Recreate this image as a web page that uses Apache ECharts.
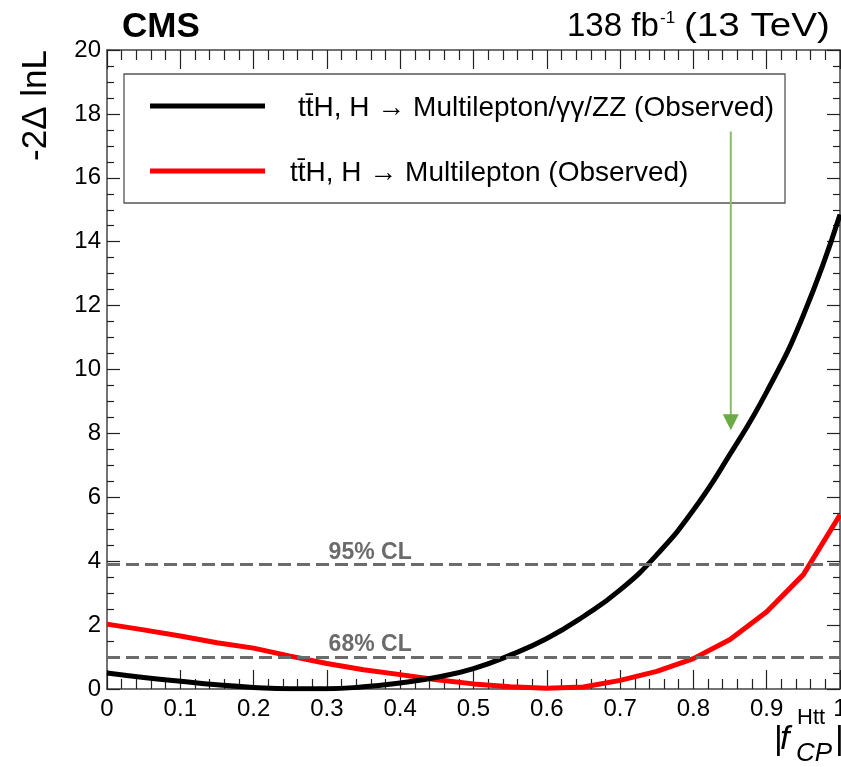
<!DOCTYPE html>
<html><head><meta charset="utf-8">
<script src="https://cdn.jsdelivr.net/npm/echarts@6/dist/echarts.min.js"></script>
<style>html,body{margin:0;padding:0;background:#fff}#c{width:841px;height:767px}</style>
</head><body><div id="c"></div>
<script>
// ---- data ----
const fcpValues = [0,0.05,0.1,0.15,0.2,0.25,0.3,0.35,0.4,0.45,0.5,0.55,0.6,0.65,0.7,0.75,0.8,0.85,0.9,0.95,1.0];
const combinedObserved = [0.50,0.36,0.24,0.13,0.05,0.01,0.01,0.07,0.19,0.37,0.64,1.06,1.58,2.27,3.10,4.20,5.60,7.35,9.30,11.70,14.85];
const multileptonObserved = [2.03,1.85,1.66,1.45,1.28,1.03,0.80,0.60,0.45,0.29,0.16,0.07,0.02,0.06,0.27,0.55,0.95,1.55,2.42,3.58,5.45];
const clLevels = [3.9, 1.0];
const clLabels = ['95% CL', '68% CL'];
const clLabelX = 0.359;
const xTickLabels = ['0','0.1','0.2','0.3','0.4','0.5','0.6','0.7','0.8','0.9','1'];
const yTickLabels = ['0','2','4','6','8','10','12','14','16','18','20'];
const seriesNames = ['t\u0074\u0304H, H \u2192 Multilepton/\u03b3\u03b3/ZZ (Observed)', 't\u0074\u0304H, H \u2192 Multilepton (Observed)'];
const arrowX = 0.851, arrowFrom = 17.45, arrowTo = 8.1;

const F = '"Liberation Sans", Arial, Helvetica, sans-serif';
const chart = echarts.init(document.getElementById('c'), null, {renderer: 'canvas'});

function xAxisDef(pos, showLabel) {
  return {
    type: 'value', position: pos, min: 0, max: 1, interval: 0.1,
    axisLine: {show: true, onZero: false, lineStyle: {color: '#444', width: 1.5}},
    axisTick: {show: true, inside: true, length: 19, lineStyle: {color: '#222', width: 1.2}},
    minorTick: {show: true, splitNumber: 5, length: 10, lineStyle: {color: '#222', width: 1.2}},
    splitLine: {show: false}, minorSplitLine: {show: false},
    axisLabel: {show: showLabel, fontSize: 24, color: '#000', fontFamily: F, margin: 8, hideOverlap: false,
      formatter: (v) => xTickLabels[Math.round(v * 10)]}
  };
}
function yAxisDef(pos, showLabel) {
  return {
    type: 'value', position: pos, min: 0, max: 20, interval: 2,
    axisLine: {show: true, onZero: false, lineStyle: {color: '#444', width: 1.5}},
    axisTick: {show: true, inside: true, length: 13, lineStyle: {color: '#222', width: 1.2}},
    minorTick: {show: true, splitNumber: 4, length: 7, lineStyle: {color: '#222', width: 1.2}},
    splitLine: {show: false}, minorSplitLine: {show: false},
    axisLabel: {show: showLabel, fontSize: 24, color: '#000', fontFamily: F, margin: 6,
      formatter: (v) => yTickLabels[Math.round(v / 2)]}
  };
}

chart.setOption({
  animation: false,
  backgroundColor: '#fff',
  grid: {left: 107, right: 1, top: 50, bottom: 78, containLabel: false, outerBoundsMode: 'none'},
  xAxis: [xAxisDef('bottom', true), xAxisDef('top', false)],
  yAxis: [yAxisDef('left', true), yAxisDef('right', false)],
  series: [
    {
      type: 'line', name: 'cl', data: [], z: 2,
      markLine: {
        silent: true, symbol: 'none', animation: false,
        label: {show: false},
        lineStyle: {type: [13, 6], color: '#6b6b6b', width: 3},
        data: clLevels.map(v => ({yAxis: v}))
      }
    },
    {
      type: 'line', name: seriesNames[1], z: 3,
      data: fcpValues.map((x, i) => [x, multileptonObserved[i]]),
      symbol: 'none', showSymbol: false, smooth: false,
      lineStyle: {color: '#ff0000', width: 5}
    },
    {
      type: 'line', name: seriesNames[0], z: 4,
      data: fcpValues.map((x, i) => [x, combinedObserved[i]]),
      symbol: 'none', showSymbol: false, smooth: 0.5,
      lineStyle: {color: '#000', width: 5}
    }
  ]
});

function px(x, y) { return chart.convertToPixel({xAxisIndex: 0, yAxisIndex: 0}, [x, y]); }
function T(text, x, y, font, opt) {
  opt = opt || {};
  const align = opt.align || 'left', va = opt.va || 'middle';
  return {type: 'text', x: x, y: y, rotation: opt.rotation || 0, scaleX: opt.scaleX || 1, z: opt.z || 10,
    style: {text: text, font: font, fill: opt.fill || '#000', align: align, textAlign: align,
      verticalAlign: va, textVerticalAlign: va}};
}

const g = [];
// header
g.push(T('CMS', 122, 27, 'bold 35px ' + F));
g.push(T('138 fb', 567, 27, '33px ' + F));
g.push(T('-1', 660, 18, '17px ' + F));
g.push(T('(13 TeV)', 684, 27, '33px ' + F, {scaleX: 1.17}));
// y-axis name
g.push(T('-2\u0394 lnL', 36, 50, '35px ' + F, {align: 'right', rotation: Math.PI / 2}));
// x-axis name
g.push(T('|', 774, 740, '34px ' + F));
g.push(T('f', 780, 740, 'italic 34px ' + F));
g.push(T('Htt', 797, 718, '22px ' + F));
g.push(T('CP', 796, 754, 'italic 26px ' + F));
g.push(T('|', 835, 740, '34px ' + F));
// CL labels
clLevels.forEach((v, i) => {
  const p = px(clLabelX, v);
  g.push(T(clLabels[i], p[0], p[1] - 12, 'bold 23px ' + F, {align: 'center', fill: '#6b6b6b'}));
});
// legend
g.push({type: 'rect', z: 1, shape: {x: 124, y: 74, width: 661, height: 129},
  style: {fill: '#fff', stroke: '#555', lineWidth: 1.3}});
g.push({type: 'line', z: 5, shape: {x1: 150, y1: 106, x2: 265, y2: 106}, style: {stroke: '#000', lineWidth: 5}});
g.push({type: 'line', z: 5, shape: {x1: 150, y1: 171, x2: 265, y2: 171}, style: {stroke: '#ff0000', lineWidth: 5}});
g.push(T(seriesNames[0], 298, 108, '28px ' + F));
g.push(T(seriesNames[1], 290, 173, '28px ' + F));
// annotation arrow
const a0 = px(arrowX, arrowFrom), a1 = px(arrowX, arrowTo);
g.push({type: 'line', z: 20, shape: {x1: a0[0], y1: a0[1], x2: a1[0], y2: a1[1] - 12},
  style: {stroke: '#86bf65', lineWidth: 2}});
g.push({type: 'polygon', z: 20, shape: {points: [[a1[0] - 8, a1[1] - 16], [a1[0] + 8, a1[1] - 16], [a1[0], a1[1]]]},
  style: {fill: '#6aab45'}});

chart.setOption({graphic: {elements: g}});
</script>
</body></html>
